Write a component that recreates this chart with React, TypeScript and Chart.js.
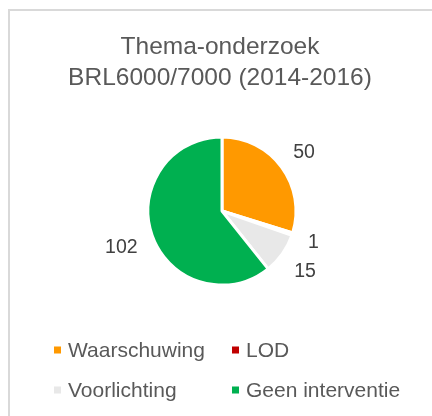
import { useEffect, useRef } from "react";
import { Chart, registerables } from "chart.js";

Chart.register(...registerables);

const categories = ["Waarschuwing", "LOD", "Voorlichting", "Geen interventie"];
const values = [50, 1, 15, 102];
const colors = ["#FF9900", "#C00000", "#E8E8E8", "#00B050"];
const titleLines = ["Thema-onderzoek", "BRL6000/7000 (2014-2016)"];

const FONT = "'Liberation Sans', Arial, sans-serif";

const decorPlugin = {
  id: "decor",
  beforeDraw(chart: any) {
    const ctx = chart.ctx;
    ctx.save();
    ctx.fillStyle = "#ffffff";
    ctx.fillRect(0, 0, chart.width, chart.height);
    ctx.strokeStyle = "#D9D9D9";
    ctx.lineWidth = 2;
    ctx.strokeRect(9, 10, chart.width + 40, chart.height + 40);
    ctx.restore();
  },
  afterDraw(chart: any) {
    const ctx = chart.ctx;
    ctx.save();
    // title
    ctx.fillStyle = "#595959";
    ctx.font = `24.5px ${FONT}`;
    ctx.textAlign = "center";
    ctx.textBaseline = "alphabetic";
    const tx = 220;
    titleLines.forEach((line, i) => {
      ctx.fillText(line, tx, 53.5 + i * 31.5);
    });

    // data labels
    const meta = chart.getDatasetMeta(0);
    ctx.font = `19.5px ${FONT}`;
    ctx.fillStyle = "#404040";
    const capH = 14;
    meta.data.forEach((arc: any, i: number) => {
      const { x, y, startAngle, endAngle, outerRadius } = arc.getProps(
        ["x", "y", "startAngle", "endAngle", "outerRadius"],
        true
      );
      const mid = (startAngle + endAngle) / 2;
      const c = Math.cos(mid);
      const s = Math.sin(mid);
      const text = String(values[i]);
      const w = ctx.measureText(text).width;
      const ext = (w / 2) * Math.abs(c) + (capH / 2) * Math.abs(s);
      const d = outerRadius + 15 + ext;
      ctx.textAlign = "center";
      ctx.textBaseline = "alphabetic";
      ctx.fillText(text, x + c * d, y + s * d + capH / 2);
    });

    // legend
    ctx.font = `21px ${FONT}`;
    ctx.fillStyle = "#595959";
    ctx.textAlign = "left";
    ctx.textBaseline = "middle";
    const colX = [54, 232];
    const rowY = [350, 390];
    categories.forEach((name, i) => {
      const cx = colX[i % 2];
      const cy = rowY[Math.floor(i / 2)];
      ctx.fillStyle = colors[i];
      ctx.fillRect(cx, cy - 3.5, 7, 7);
      ctx.fillStyle = "#595959";
      ctx.fillText(name, cx + 14, cy + 1);
    });
    ctx.restore();
  },
};

export default function App() {
  const ref = useRef<HTMLCanvasElement | null>(null);
  useEffect(() => {
    if (!ref.current) return;
    const chart = new Chart(ref.current, {
      type: "pie",
      data: {
        labels: categories,
        datasets: [
          {
            data: values,
            backgroundColor: colors,
            borderColor: "#ffffff",
            borderWidth: 3,
          },
        ],
      },
      options: {
        responsive: false,
        animation: false,
        radius: 74,
        layout: { padding: { left: 100, right: 88, top: 120, bottom: 114 } },
        plugins: {
          legend: { display: false },
          title: { display: false },
          tooltip: { enabled: false },
        },
      } as any,
      plugins: [decorPlugin],
    });
    return () => chart.destroy();
  }, []);
  return (
    <div style={{ position: "fixed", left: 0, top: 0, width: 432, height: 416 }}>
      <canvas ref={ref} width={432} height={416} style={{ display: "block" }} />
    </div>
  );
}
